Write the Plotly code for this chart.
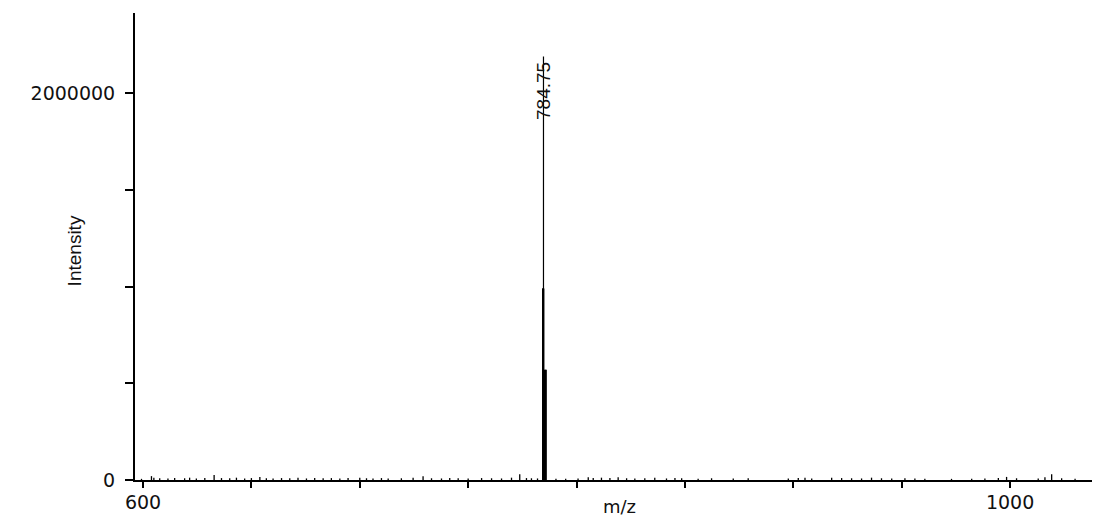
import plotly.graph_objects as go

# ---- data ----
# main peak cluster (m/z, intensity)
peak_mz = [784.35, 784.5, 784.6, 784.75, 784.9, 785.2, 785.5, 785.75, 786.0]
peak_int = [990000, 990000, 990000, 2190000, 990000, 570000, 570000, 570000, 570000]
peak_label = "784.75"

# baseline noise sticks (m/z, intensity)
noise_mz = [599.3, 603.9, 605.0, 607.7, 611.5, 614.6, 619.2, 621.5, 624.6, 628.5,
            632.8, 636.2, 640.0, 643.1, 646.9, 650.0, 653.9, 656.9, 660.0, 663.9,
            667.7, 671.5, 675.4, 679.2, 683.1, 686.9, 690.8, 694.6, 700.0, 703.1,
            706.1, 710.0, 713.1, 719.2, 724.6, 729.2, 733.1, 737.7, 741.5, 745.4,
            750.0, 756.2, 760.8, 765.4, 770.0, 773.8, 776.9, 779.2, 782.0, 790.5,
            795.0, 800.7, 805.4, 807.7, 811.5, 815.4, 819.2, 823.1, 826.9, 831.5,
            836.1, 841.5, 845.4, 848.5, 856.1, 862.3, 872.3, 879.2, 897.7, 902.3,
            905.4, 908.5, 917.7, 922.3, 926.9, 931.5, 936.1, 940.7, 945.4, 951.5,
            956.1, 960.7, 973.0, 982.3, 988.4, 994.6, 998.4, 1003.0, 1013.0, 1016.1,
            1019.2, 1023.8, 1030.0]
noise_int = [6000, 20000, 12000, 9000, 8000, 10000, 9000, 12000, 8000, 10000,
             26000, 10000, 9000, 12000, 8000, 10000, 15000, 9000, 8000, 10000,
             9000, 11000, 8000, 10000, 9000, 10000, 8000, 10000, 12000, 9000,
             8000, 10000, 8000, 9000, 12000, 20000, 9000, 8000, 10000, 9000,
             8000, 10000, 9000, 8000, 12000, 30000, 10000, 9000, 8000, 7000,
             6000, 8000, 14000, 10000, 12000, 10000, 14000, 9000, 8000, 9000,
             12000, 8000, 10000, 9000, 7000, 9000, 8000, 9000, 8000, 10000,
             12000, 8000, 12000, 10000, 9000, 8000, 12000, 9000, 8000, 9000,
             8000, 7000, 6000, 7000, 8000, 10000, 16000, 9000, 8000, 14000,
             30000, 9000, 7000]

x_tickvals = [600, 650, 700, 750, 800, 850, 900, 950, 1000]
x_ticktext = ["600", "", "", "", "", "", "", "", "1000"]
y_tickvals = [0, 500000, 1000000, 1500000, 2000000]
y_ticktext = ["0", "", "", "", "2000000"]


def sticks(mz, inten):
    xs, ys = [], []
    for m, h in zip(mz, inten):
        xs += [m, m, None]
        ys += [0, h, None]
    return xs, ys


fig = go.Figure()
nx, ny = sticks(noise_mz, noise_int)
fig.add_trace(go.Scatter(x=nx, y=ny, mode="lines",
                         line=dict(color="black", width=1.3),
                         hoverinfo="skip", showlegend=False))
px_, py_ = sticks(peak_mz, peak_int)
fig.add_trace(go.Scatter(x=px_, y=py_, mode="lines",
                         line=dict(color="black", width=1.2),
                         hoverinfo="skip", showlegend=False))

ipk = peak_int.index(max(peak_int))
fig.add_annotation(x=peak_mz[ipk], y=peak_int[ipk], text=peak_label,
                   textangle=-90, showarrow=False, xanchor="center",
                   yanchor="top", yshift=-3,
                   font=dict(family="Liberation Sans, Arial", size=19, color="#111"))

fig.add_annotation(xref="paper", yref="paper", x=0.502, y=-0.056, text="m/z",
                   showarrow=False, xanchor="center", yanchor="middle",
                   font=dict(family="DejaVu Sans", size=18, color="#111"))
fig.add_annotation(xref="paper", yref="paper", x=-0.063, y=0.49, text="Intensity",
                   textangle=-90, showarrow=False, xanchor="center", yanchor="middle",
                   font=dict(family="Liberation Sans, Arial", size=19, color="#111"))

fig.update_layout(
    width=1092, height=511,
    margin=dict(l=127, r=0, t=5, b=39, autoexpand=False),
    paper_bgcolor="white", plot_bgcolor="white",
    font=dict(family="DejaVu Sans", size=19, color="#111"),
    xaxis=dict(range=[596.3, 1041.5], showline=True, linecolor="black", linewidth=2,
               ticks="outside", ticklen=6, tickwidth=2, tickcolor="black",
               tickvals=x_tickvals, ticktext=x_ticktext, showgrid=False,
               zeroline=False, ticklabelstandoff=-2),
    yaxis=dict(range=[0, 2415000], showline=True, linecolor="black", linewidth=2,
               ticks="outside", ticklen=8, tickwidth=2, tickcolor="black",
               tickvals=y_tickvals, ticktext=y_ticktext, showgrid=False,
               zeroline=False, ticklabelstandoff=6),
)

fig.write_html("out.html")
